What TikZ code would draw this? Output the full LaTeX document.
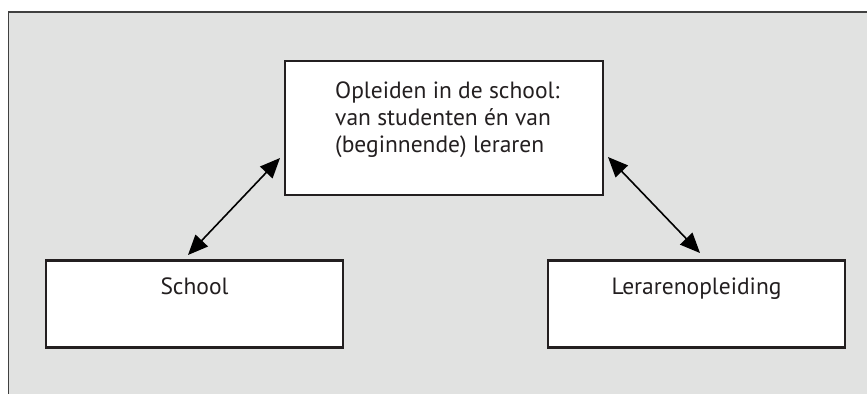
\documentclass[tikz,border=0pt]{standalone}
\usepackage{fontspec}
\setmainfont{PT Sans}
\usetikzlibrary{arrows.meta}
\definecolor{bggrey}{HTML}{E1E2E1}
\definecolor{frame}{HTML}{404040}
\definecolor{ink}{HTML}{231F20}
\tikzset{
  x=1bp, y=-1bp,
  box/.style={draw=ink, line width=2.6bp, fill=white, inner sep=0pt, minimum width=297bp, text height=34bp, text depth=53bp, font=\fontsize{23.5bp}{27bp}\selectfont, text=ink},
  topbox/.style={draw=ink, line width=2.6bp, fill=white, inner sep=0pt, minimum width=318bp, minimum height=134bp},
  txt/.style={inner sep=0pt, font=\fontsize{23.5bp}{27bp}\selectfont, text=ink, align=left},
  link/.style={line width=1.6bp, draw=black, {Triangle[length=20bp,width=17bp]}-{Triangle[length=20bp,width=17bp]}}
}
\begin{document}
\begin{tikzpicture}
\useasboundingbox (0,0) rectangle (867,393);
\clip (0,0) rectangle (867,393);
\fill[white] (0,0) rectangle (867,393);
\draw[frame, line width=1.5bp, fill=bggrey] (8.5,12) rectangle (900,420);
\node[topbox] (top) at (444,128) {};
\node[txt, anchor=base west] (toptext) at (335,152) {Opleiden in de school:\\van studenten én van\\(beginnende) leraren};
\node[box, anchor=north] (school) at (194.5,259) {School};
\node[box, anchor=north] (lo) at (696.5,259) {Lerarenopleiding};
\coordinate (a1) at (188,255);
\coordinate (a2) at (280,158);
\coordinate (b1) at (608,157);
\coordinate (b2) at (700,253);
\draw[link] (a1) -- (a2);
\draw[link] (b1) -- (b2);
\end{tikzpicture}
\end{document}
